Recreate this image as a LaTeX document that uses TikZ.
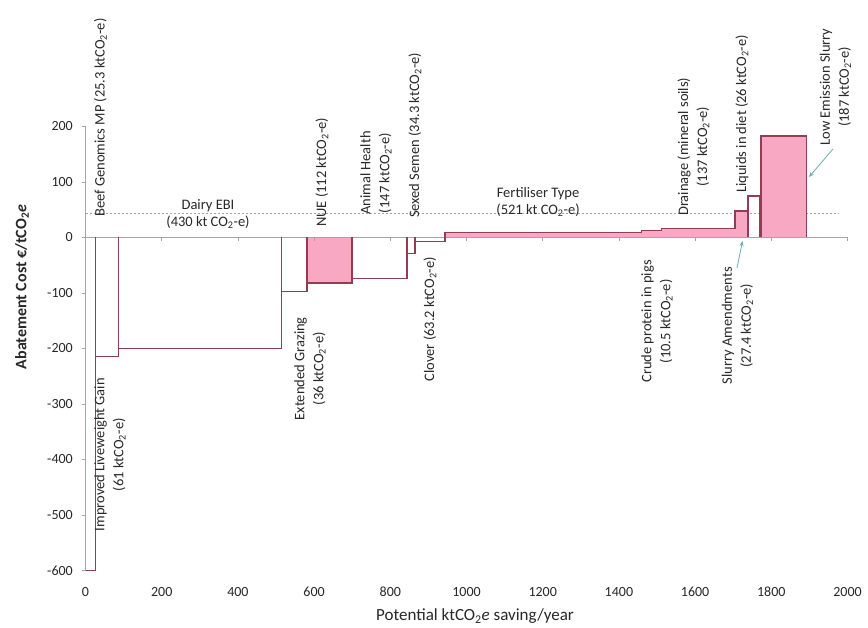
\documentclass[tikz,border=0pt]{standalone}
\usepackage{fontspec}
\setmainfont{Carlito}
\usetikzlibrary{arrows.meta}
\definecolor{barline}{RGB}{145,62,85}
\definecolor{barpink}{RGB}{248,168,194}
\definecolor{axisgrey}{RGB}{165,165,165}
\definecolor{leader}{RGB}{105,175,175}
\definecolor{txt}{RGB}{40,40,40}
\newcommand{\kt}{ktCO\textsubscript{2}-e}
\begin{document}
\begin{tikzpicture}[x=1pt,y=-1pt,
  every node/.style={text=txt},
  lab/.style={rotate=90, align=center, inner sep=0pt, font=\fontsize{14.5}{19}\selectfont},
  hlab/.style={align=center, inner sep=0pt, font=\fontsize{14.5}{17}\selectfont},
  ticklab/.style={inner sep=0pt, font=\fontsize{14}{16}\selectfont},
  outline/.style={draw=barline, line width=1.3pt, line join=miter},
  pinkfill/.style={fill=barpink},
  axisline/.style={draw=axisgrey, line width=0.8pt},
  leaderline/.style={draw=leader, line width=0.8pt, -{Stealth[length=5pt,width=4pt]}}]
\useasboundingbox (0,0) rectangle (868,628);
\fill[white] (0,0) rectangle (868,628);
% reference line
\draw[axisgrey, line width=0.9pt, dash pattern=on 2pt off 2pt] (85.5,213) -- (838,213);
% fills
\fill[pinkfill] (307,237.5) rectangle (352,283);
\fill[pinkfill] (445,237.5) rectangle (641.7,232.5);
\fill[pinkfill] (641.7,237.5) rectangle (661.7,230.5);
\fill[pinkfill] (661.7,237.5) rectangle (735,228.3);
\fill[pinkfill] (735,237.5) rectangle (748,211);
\fill[pinkfill] (761,237.5) rectangle (806.7,136);
% axes
\draw[axisline] (85.5,126.5) -- (85.5,570.5);
\draw[axisline] (85.5,237.5) -- (847.5,237.5);
\foreach \v [count=\i, evaluate=\v as \py using 237.5-0.555*\v] in {200,100,0,-100,-200,-300,-400,-500,-600} {
  \draw[axisline] (81.5,\py) -- (85.5,\py);
  \node[ticklab, anchor=east] (yl\i) at (73,\py) {\v};
}
\foreach \v [count=\i, evaluate=\v as \px using 85.5+0.381*\v] in {0,200,...,2000} {
  \draw[axisline] (\px,237.5) -- (\px,241.5);
  \node[ticklab] (xl\i) at (\px,592) {\v};
}
% bar outlines (steps)
\draw[outline] (85.5,570.5) -- (95.7,570.5) -- (95.7,237.5);
\draw[outline] (95.7,356.7) -- (118.8,356.7) -- (118.8,237.5);
\draw[outline] (118.8,348.5) -- (281.7,348.5) -- (281.7,237.5);
\draw[outline] (281.7,291.5) -- (307,291.5) -- (307,237.5);
\draw[outline] (307,283) -- (352,283) -- (352,237.5);
\draw[outline] (352,278.3) -- (407,278.3) -- (407,237.5);
\draw[outline] (407,253.3) -- (415,253.3) -- (415,237.5);
\draw[outline] (415,241.7) -- (445,241.7) -- (445,237.5);
\draw[outline] (445,237.5) -- (445,232.5) -- (641.7,232.5) -- (641.7,230.5) -- (661.7,230.5) -- (661.7,228.3) -- (735,228.3) -- (735,211) -- (748,211) -- (748,237.5);
\draw[outline] (748,211) -- (748,196) -- (760,196) -- (760,237.5);
\draw[outline] (761,237.5) -- (761,136) -- (806.7,136) -- (806.7,237.5);
% labels
\node[lab, anchor=west] (beef) at (100.5,217) {Beef Genomics MP (25.3 \kt)};
\node[lab, anchor=east] (improved) at (110,378) {Improved Liveweight Gain\\(61 \kt)};
\node[hlab] (dairy) at (208,214) {Dairy EBI\\(430 kt CO\textsubscript{2}-e)};
\node[lab, anchor=east] (extgraz) at (310,317) {Extended Grazing\\(36 \kt)};
\node[lab, anchor=west] (nue) at (322,227) {NUE (112 \kt)};
\node[lab, anchor=west] (animal) at (376,215) {Animal Health\\(147 \kt)};
\node[lab, anchor=west] (sexed) at (415,218) {Sexed Semen (34.3 \kt)};
\node[lab, anchor=east] (clover) at (430,257) {Clover (63.2 \kt)};
\node[hlab] (fert) at (538,202) {Fertiliser Type\\(521 kt CO\textsubscript{2}-e)};
\node[lab, anchor=east] (crude) at (657,260) {Crude protein in pigs\\(10.5 \kt)};
\node[lab, anchor=west] (drain) at (693.5,216) {Drainage (mineral soils)\\(137 \kt)};
\node[lab, anchor=east] (slurryam) at (737.5,267) {Slurry Amendments\\(27.4 \kt)};
\node[lab, anchor=west] (liquid) at (742,193) {Liquids in diet (26 \kt)};
\node[lab] (lowem) at (835.5,87) {Low Emission Slurry\\(187 \kt)};
% leaders
\coordinate (lowemA) at (833,149);
\coordinate (lowemB) at (809,177);
\draw[leaderline] (lowemA) -- (lowemB);
\coordinate (slamA) at (737,268);
\coordinate (slamB) at (742.5,241);
\draw[leaderline] (slamA) -- (slamB);
% axis titles
\node[rotate=90, inner sep=0pt, font=\bfseries\fontsize{16}{19}\selectfont] (ytitle) at (22,287) {Abatement Cost €/tCO\textsubscript{2}\textit{e}};
\node[inner sep=0pt, font=\fontsize{17}{20}\selectfont] (xtitle) at (475,616) {Potential ktCO\textsubscript{2}\textit{e} saving/year};
\end{tikzpicture}
\end{document}
